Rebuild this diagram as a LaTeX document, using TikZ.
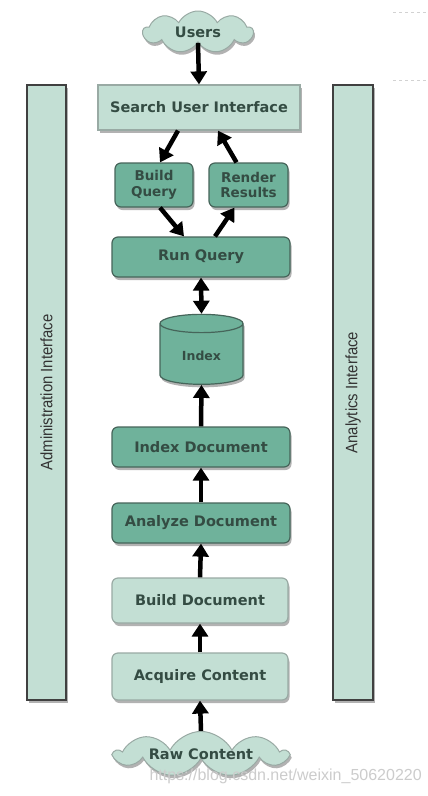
\documentclass[tikz,border=0pt]{standalone}
\usepackage{fontspec}
\setmainfont{DejaVu Sans}
\newfontfamily\arialfont{Liberation Sans}
\usetikzlibrary{shapes.symbols,shapes.geometric,shadows,arrows.meta,calc}
\definecolor{lightg}{HTML}{C3DFD4}
\definecolor{midg}{HTML}{6FB29B}
\definecolor{bord}{HTML}{46655A}
\definecolor{txt}{HTML}{344C43}
\newcommand{\sidetxt}[1]{\rotatebox{90}{\scalebox{0.9}[1]{#1}}}
\begin{document}
\begin{tikzpicture}[x=1pt,y=-1pt,
  shad/.style={drop shadow={shadow xshift=1.5pt,shadow yshift=-3pt,opacity=0.3,fill=black}},
  box/.style={draw=bord, line width=1.2pt, rounded corners=6pt, inner sep=2pt,
    font=\bfseries\fontsize{14.5}{17}\selectfont, text=txt, shad},
  lbox/.style={box, fill=lightg, draw=bord!55},
  mbox/.style={box, fill=midg},
  sbox/.style={mbox, align=center, font=\bfseries\fontsize{13.5}{15.5}\selectfont},
  cloudy/.style={cloud, cloud puffs=9, cloud puff arc=125, cloud ignores aspect, fill=lightg, draw=bord!55,
    line width=1pt, text=txt, font=\bfseries\fontsize{14.5}{17}\selectfont, inner sep=0pt, shad},
  sidebar/.style={draw=black!75, line width=1.8pt, fill=lightg, text=black!80,
    font=\arialfont\fontsize{16.5}{18}\selectfont, inner sep=0pt, shad},
  arr/.style={line width=4.5pt, -{Triangle[width=16pt,length=13pt]}},
  darr/.style={line width=4.5pt, {Triangle[width=16pt,length=13pt]}-{Triangle[width=16pt,length=13pt]}}]
\useasboundingbox (0,0) rectangle (428,796);
\fill[white] (0,0) rectangle (428,796);
\draw[gray!35, dashed] (393,12) -- (428,12);
\draw[gray!35, dashed] (393,80) -- (428,80);
% side bars
\node[sidebar, minimum width=39pt, minimum height=615pt] (admin) at (46.5,392.5) {\sidetxt{Administration Interface}};
\node[sidebar, minimum width=40pt, minimum height=615pt] (analytics) at (353,392.5) {\sidetxt{Analytics Interface}};
% main column
\node[cloudy, minimum width=110pt, minimum height=42pt] (users) at (198,32) {Users};
\node[lbox, rounded corners=0pt, minimum width=202pt, minimum height=45pt] (sui) at (199,107.5) {Search User Interface};
\node[sbox, minimum width=78pt, minimum height=44pt] (bq) at (154,185) {Build\\Query};
\node[sbox, minimum width=79pt, minimum height=44pt] (rr) at (248.5,185) {Render\\Results};
\node[mbox, minimum width=178pt, minimum height=40pt] (rq) at (201,257) {Run Query};
\node[cylinder, shape border rotate=90, aspect=0.4, fill=midg, draw=bord, line width=1.2pt,
  minimum width=83pt, minimum height=70pt, text=txt, font=\bfseries\fontsize{12.5}{15}\selectfont, shad] (idx) at (201.5,356) {Index};
\node[mbox, minimum width=178pt, minimum height=40pt] (idoc) at (201,447) {Index Document};
\node[mbox, minimum width=178pt, minimum height=40pt] (adoc) at (201,523) {Analyze Document};
\node[lbox, minimum width=176pt, minimum height=45pt] (bdoc) at (200,600.5) {Build Document};
\node[lbox, minimum width=176pt, minimum height=47pt] (acq) at (200,676.5) {Acquire Content};
\node[cloudy, minimum width=172pt, minimum height=44pt] (raw) at (201,754) {Raw Content};
% connectors
\draw[arr] (users.south) -- (sui.north);
\draw[arr] ($(sui.south)+(-21,0)$) -- ($(bq.north)+(6,0)$);
\draw[arr] ($(rr.north)+(-12,0)$) -- ($(sui.south)+(19,0)$);
\draw[arr] ($(bq.south)+(6,0)$) -- ($(rq.north)+(-17,0)$);
\draw[arr] ($(rq.north)+(14,0)$) -- ($(rr.south)+(-14,0)$);
\draw[darr] (rq.south) -- (idx.north);
\draw[arr] (idoc.north) -- (idx.south);
\draw[arr] (adoc.north) -- (idoc.south);
\draw[arr] (bdoc.north) -- (adoc.south);
\draw[arr] (acq.north) -- (bdoc.south);
\draw[arr] (raw.north) -- (acq.south);
% watermark
\node[font=\arialfont\fontsize{16}{16}\selectfont, text=gray!40, anchor=west] (wm) at (146,776) {https://blog.csdn.net/weixin\_50620220};
\end{tikzpicture}
\end{document}
